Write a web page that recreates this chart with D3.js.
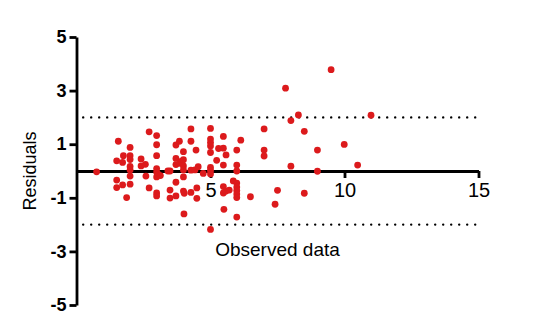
<!DOCTYPE html>
<style>
  body { margin: 0; background: #fff; }
  text { font-family: "Liberation Sans", Arial, sans-serif; }
  .axis .domain, .axis line { stroke: #000; stroke-width: 2.8px; }
</style>
<body>
<script src="https://d3js.org/d3.v7.min.js"></script>
<script>

var observed = [0.75, 1.56, 1.50, 1.72, 1.75, 2.00, 2.00, 2.00, 2.00, 2.00, 2.00, 1.50, 1.50, 1.72, 1.87, 2.00,
  2.41, 2.41, 2.57, 2.59, 2.71, 2.71, 2.99, 2.99, 2.99, 2.99, 2.99, 3.05, 2.99, 3.13, 2.99, 2.99,
  3.41, 3.49, 3.49, 3.49, 3.71, 3.84, 3.71, 3.71, 3.86, 3.92, 3.71, 3.71, 3.99, 3.99, 3.99, 3.99,
  3.99, 3.99, 4.02, 4.01, 4.27, 4.27, 4.27, 4.27, 4.46, 4.49, 4.49, 4.42, 4.54, 4.73,
  5.00, 5.00, 5.00, 5.00, 5.00, 5.00, 5.00, 5.00, 5.00, 5.30, 5.48, 5.48, 5.23, 5.48, 5.58,
  5.48, 5.48, 5.58, 5.70, 5.50, 5.85, 5.98, 5.98, 5.98, 5.98, 5.98, 5.98, 5.98, 5.98, 5.98,
  6.13, 6.49, 7.00, 7.00, 7.00, 7.50, 7.41, 7.80, 8.00, 8.28, 8.50, 8.00, 8.50, 8.99, 8.99,
  9.50, 9.99, 10.49, 10.99];
var residuals = [-0.03, 1.11, 0.38, 0.32, 0.57, 0.88, 0.57, 0.43, 0.17, 0.04, -0.19, -0.34, -0.62, -0.52, -0.99, -0.49,
  0.45, 0.19, 0.25, -0.19, 1.46, -0.63, 1.32, 0.98, 0.57, 0.09, -0.04, -0.13, -0.22, -0.17, -0.82, -0.93,
  0.00, 0.00, -0.71, -1.01, 0.97, 1.11, 0.47, 0.24, 0.29, 0.37, -0.42, -0.93, 0.72, 0.42, 0.19, 0.04,
  -0.22, -0.75, -0.83, -1.60, 1.57, 1.11, 0.03, -0.80, 0.78, -0.63, -1.02, 0.04, 0.16, -0.09,
  1.59, 1.19, 1.06, 0.93, 0.69, 0.13, 0.02, -0.11, -2.18, 0.84, 1.29, 0.85, 0.40, 0.22, 0.60,
  -0.58, -0.82, -0.75, -0.71, -1.43, -0.37, 0.78, 0.22, 0.00, -0.45, -0.60, -0.73, -0.86, -0.99, -1.72,
  1.15, -0.96, 1.57, 0.78, 0.56, -0.72, -1.24, 3.09, 1.88, 2.09, 1.48, 0.18, -0.83, 0.78, -0.01,
  3.78, 0.99, 0.22, 2.08];

var xTicks = [5, 10, 15];
var yTicks = [5, 3, 1, -1, -3, -5];
var limits = [2, -2];   // dotted bands

var width = 540, height = 319;

var x = d3.scaleLinear().domain([0, 15]).range([76.5, 478.5]);
var y = d3.scaleLinear().domain([-5, 5]).range([305, 37]);

var svg = d3.select("body").append("svg")
    .attr("width", width)
    .attr("height", height);

// dotted limit lines
svg.selectAll(".limit")
    .data(limits)
  .enter().append("line")
    .attr("class", "limit")
    .attr("x1", x(0.25))
    .attr("x2", x(15))
    .attr("y1", function(d) { return y(d); })
    .attr("y2", function(d) { return y(d); })
    .style("stroke", "#000")
    .style("stroke-width", 2.4)
    .style("stroke-linecap", "round")
    .style("stroke-dasharray", "0,8");

svg.append("g")
    .attr("class", "axis")
    .attr("transform", "translate(" + x(0) + ",0)")
    .call(d3.axisLeft(y).tickValues(yTicks).tickSize(7).tickSizeOuter(0).tickPadding(3)
      .tickFormat(function(d) { return String(d); }))
    .selectAll("text")
      .style("font-size", "18px")
      .style("font-weight", "bold")
      .style("fill", "#000");

svg.append("g")
    .attr("class", "axis")
    .attr("transform", "translate(0," + y(0) + ")")
    .call(d3.axisBottom(x).tickValues(xTicks).tickSize(7).tickSizeOuter(0).tickPadding(5))
    .selectAll("text")
      .style("font-size", "20px")
      .style("fill", "#000");

svg.selectAll("text").attr("font-family", null);

svg.append("g").selectAll("circle")
    .data(observed)
  .enter().append("circle")
    .attr("cx", function(d) { return x(d); })
    .attr("cy", function(d, i) { return y(residuals[i]); })
    .attr("r", 3.4)
    .style("fill", "#dc1a1c");

svg.append("text")
    .attr("x", (x(0) + x(15)) / 2)
    .attr("y", 256)
    .attr("text-anchor", "middle")
    .style("font-size", "19px")
    .text("Observed data");

svg.append("text")
    .attr("transform", "translate(36," + y(0) + ") rotate(-90)")
    .attr("text-anchor", "middle")
    .style("font-size", "18px")
    .text("Residuals");

</script>
